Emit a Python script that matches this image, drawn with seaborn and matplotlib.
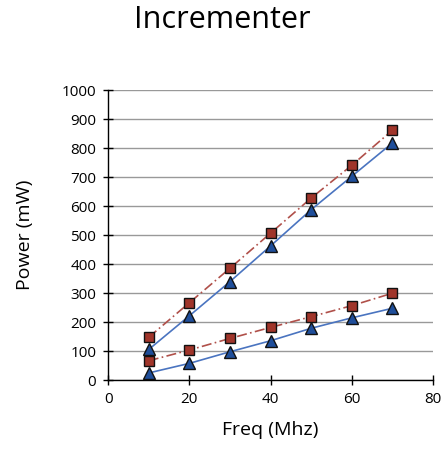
import numpy as np
import pandas as pd
import matplotlib
matplotlib.use('Agg')
import matplotlib.pyplot as plt
import seaborn as sns

# Données
freq = [10, 20, 30, 40, 50, 60, 70]
high_red = [148, 267, 386, 507, 628, 741, 862]
high_blue = [106, 222, 340, 463, 588, 703, 818]
low_red = [67, 104, 144, 182, 219, 257, 300]
low_blue = [25, 58, 98, 136, 179, 215, 248]

sns.set_style('white')
plt.rcParams['font.family'] = ['Open Sans', 'DejaVu Sans']
plt.rcParams['text.color'] = 'black'
plt.rcParams['axes.labelcolor'] = 'black'
plt.rcParams['xtick.color'] = 'black'
plt.rcParams['ytick.color'] = 'black'

fig = plt.figure(figsize=(4.45, 4.51), dpi=100)
ax = fig.add_axes([0.243, 0.157, 0.730, 0.643])

red_line = '#B0504A'
red_face = '#A0352A'
blue_line = '#4A74C0'
blue_face = '#1F4E9A'

series = [
    (high_red, red_line, red_face, 's', (0, (6, 2, 1, 2)), 7),
    (high_blue, blue_line, blue_face, '^', '-', 9),
    (low_red, red_line, red_face, 's', (0, (6, 2, 1, 2)), 7),
    (low_blue, blue_line, blue_face, '^', '-', 9),
]
for vals, lc, fc, mk, ls, ms in series:
    df = pd.DataFrame({'freq': freq, 'power': vals})
    sns.lineplot(data=df, x='freq', y='power', ax=ax, color=lc, linewidth=1.2,
                 linestyle=ls, marker=mk, markersize=ms, markerfacecolor=fc,
                 markeredgecolor='#111111', markeredgewidth=1.0, zorder=3)

ax.set_xlim(0, 80)
ax.set_ylim(0, 1000)
ax.set_xticks(np.arange(0, 81, 20))
ax.set_yticks(np.arange(0, 1001, 100))
ax.yaxis.grid(True, color='#999999', linewidth=1.0)
ax.xaxis.grid(False)
for s in ['top', 'right']:
    ax.spines[s].set_visible(False)
for s in ['left', 'bottom']:
    ax.spines[s].set_color('black')
    ax.spines[s].set_linewidth(1.0)
ax.tick_params(axis='both', which='major', direction='inout', length=7, width=1,
               color='black', left=True, bottom=True, labelsize=11, pad=5)
ax.set_xlabel('Freq (Mhz)', fontsize=14, labelpad=10)
ax.set_ylabel('Power (mW)', fontsize=14, labelpad=20)
fig.suptitle('Incrementer', fontsize=22, y=0.99)

plt.savefig('out.png', dpi=100)
plt.close()
